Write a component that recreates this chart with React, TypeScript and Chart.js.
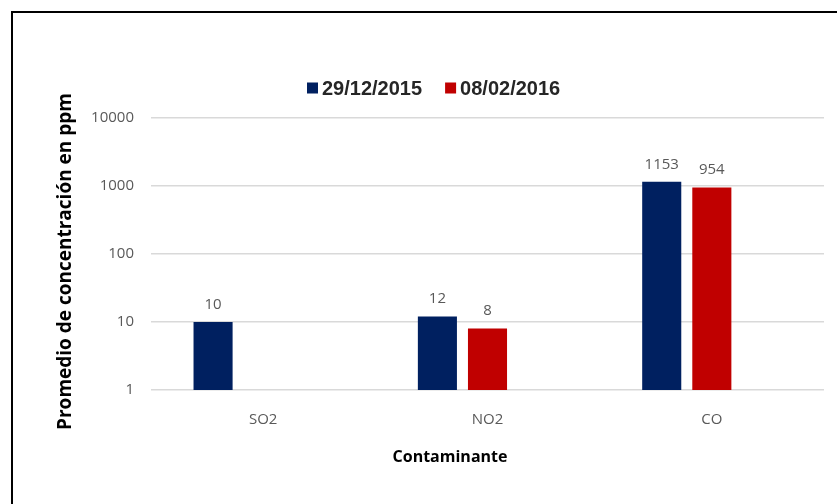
import React, { useEffect, useRef } from "react";
import { Chart, registerables } from "chart.js";

Chart.register(...registerables);

const categories = ["SO2", "NO2", "CO"];
const series1Label = "29/12/2015";
const series1: (number | null)[] = [10, 12, 1153];
const series2Label = "08/02/2016";
const series2: (number | null)[] = [null, 8, 954];
const series3: (number | null)[] = [null, null, null];
const yTicks = [1, 10, 100, 1000, 10000];
const yTitle = "Promedio de concentración en ppm";
const xTitle = "Contaminante";

const BLUE = "#002060";
const RED = "#C00000";
const GREY_TEXT = "#595959";

const customPlugin = {
  id: "custom",
  afterDatasetsDraw(chart: any) {
    const ctx = chart.ctx;
    ctx.save();
    ctx.font = "15px 'Open Sans'";
    ctx.fillStyle = GREY_TEXT;
    ctx.textAlign = "center";
    ctx.textBaseline = "middle";
    chart.data.datasets.forEach((ds: any, i: number) => {
      const meta = chart.getDatasetMeta(i);
      meta.data.forEach((bar: any, j: number) => {
        const v = ds.data[j];
        if (v == null) return;
        ctx.fillText(String(v), bar.x, bar.y - 17.5);
      });
    });
    ctx.restore();
  },
  afterDraw(chart: any) {
    const ctx = chart.ctx;
    ctx.save();
    // legend
    ctx.font = "bold 20px 'Liberation Sans'";
    ctx.textBaseline = "middle";
    ctx.textAlign = "left";
    let x = 307;
    const y = 88;
    chart.data.datasets.forEach((ds: any) => {
      if (!ds.label) return;
      ctx.fillStyle = ds.backgroundColor;
      ctx.fillRect(x, y - 5.5, 11, 11);
      ctx.fillStyle = "#262626";
      ctx.fillText(ds.label, x + 15, y + 1);
      x += 15 + ctx.measureText(ds.label).width + 23;
    });
    // axis titles
    ctx.fillStyle = "#000";
    ctx.textAlign = "center";
    ctx.font = "bold 16px 'Open Sans'";
    ctx.fillText(xTitle, 450, 457);
    ctx.translate(66, 261.5);
    ctx.rotate(-Math.PI / 2);
    ctx.font = "bold 19px 'Open Sans'";
    ctx.fillText(yTitle, 0, 0);
    ctx.restore();
  },
};

export default function App() {
  const ref = useRef<HTMLCanvasElement>(null);
  useEffect(() => {
    Chart.defaults.font.family = "'Open Sans'";
    const chart = new Chart(ref.current!, {
      type: "bar",
      data: {
        labels: categories,
        datasets: [
          { label: series1Label, data: series1, backgroundColor: BLUE },
          { label: series2Label, data: series2, backgroundColor: RED },
          { label: "", data: series3, backgroundColor: "#7f7f7f" },
        ],
      },
      options: {
        responsive: false,
        devicePixelRatio: 1,
        animation: false,
        categoryPercentage: 0.67,
        barPercentage: 0.78,
        layout: { padding: { left: 0, right: 14, top: 118, bottom: 0 } },
        plugins: {
          legend: { display: false },
          title: { display: false },
          tooltip: { enabled: false },
        },
        scales: {
          x: {
            grid: { display: false },
            border: { display: false },
            ticks: { font: { size: 15 }, color: GREY_TEXT, padding: 13 },
            afterFit: (s: any) => {
              s.height = 504 - 390;
            },
          },
          y: {
            type: "logarithmic",
            min: 1,
            max: 10000,
            grid: { color: "#d9d9d9", lineWidth: 1.5, drawTicks: false },
            border: { display: false },
            ticks: {
              font: { size: 15 },
              color: GREY_TEXT,
              padding: 17,
              callback: (v: any) => String(v),
            },
            afterBuildTicks: (s: any) => {
              s.ticks = yTicks.map((v) => ({ value: v }));
            },
            afterFit: (s: any) => {
              s.width = 151;
            },
          },
        },
      } as any,
      plugins: [customPlugin],
    });
    return () => chart.destroy();
  }, []);
  return (
    <div
      style={{
        position: "fixed",
        left: 0,
        top: 0,
        width: 838,
        height: 504,
        background: "#fff",
        overflow: "hidden",
      }}
    >
      <canvas
        ref={ref}
        width={838}
        height={504}
        style={{ position: "absolute", left: 0, top: 0, width: 838, height: 504 }}
      />
      <div
        style={{
          position: "absolute",
          left: 11,
          top: 11,
          width: 826,
          height: 600,
          borderTop: "2px solid #000",
          borderLeft: "2px solid #000",
          boxSizing: "border-box",
        }}
      />
    </div>
  );
}
